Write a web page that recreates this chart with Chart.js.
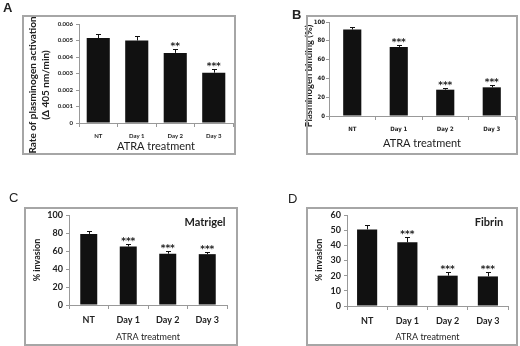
<!DOCTYPE html>
<html>
<head>
<meta charset="utf-8">
<script src="https://cdn.jsdelivr.net/npm/chart.js@4"></script>
<style>
  body { margin: 0; background: #fff; }
  #wrap { position: relative; width: 520px; height: 346px; overflow: hidden; background: #fff; }
  #wrap canvas { position: absolute; }
</style>
</head>
<body>
<div id="wrap">
  <canvas id="chartA" width="260" height="173" style="left:0;top:0"></canvas>
  <canvas id="chartB" width="260" height="173" style="left:260px;top:0"></canvas>
  <canvas id="chartC" width="260" height="173" style="left:0;top:173px"></canvas>
  <canvas id="chartD" width="260" height="173" style="left:260px;top:173px"></canvas>
</div>
<script>
// data
const categories = ['NT', 'Day 1', 'Day 2', 'Day 3'];

const rateValues = [0.00515, 0.0050, 0.00425, 0.00305];
const rateErrors = [0.00025, 0.0003, 0.00022, 0.00025];
const rateStars = ['', '', '**', '***'];

const bindingValues = [92, 73.5, 28, 30.5];
const bindingErrors = [2.5, 2.5, 2, 2.5];
const bindingStars = ['', '***', '***', '***'];

const matrigelValues = [79, 65, 57, 56.5];
const matrigelErrors = [3, 3, 2.5, 2.5];
const matrigelStars = ['', '***', '***', '***'];

const fibrinValues = [50.5, 42, 20, 19.5];
const fibrinErrors = [3, 3.5, 2.5, 3];
const fibrinStars = ['', '***', '***', '***'];

const FONT = 'Lato, "Liberation Sans", sans-serif';
const NARROW = '"Liberation Sans Narrow", "DejaVu Sans Condensed", sans-serif';

// 테두리, 패널 글자, y축 제목, 오차막대, 별표
function decoPlugin(cfg) {
  return {
    id: 'deco',
    afterDraw(chart) {
      const ctx = chart.ctx;
      const [bx, by, bw, bh] = cfg.box;
      ctx.save();
      ctx.fillStyle = '#a6a6a6';
      ctx.fillRect(bx, by, bw, 2);
      ctx.fillRect(bx, by + bh - 2, bw, 2);
      ctx.fillRect(bx, by, 2, bh);
      ctx.fillRect(bx + bw - 2, by, 2, bh);
      ctx.restore();
    },
    afterDatasetsDraw(chart) {
      const ctx = chart.ctx;
      const y = chart.scales.y;
      const meta = chart.getDatasetMeta(0);
      ctx.save();
      // letter
      ctx.fillStyle = '#222';
      ctx.font = (cfg.letterBold ? 'bold ' : '') + '13px "Liberation Sans", Arial, sans-serif';
      ctx.textAlign = 'left';
      ctx.textBaseline = 'middle';
      ctx.fillText(cfg.letter, cfg.letterPos[0], cfg.letterPos[1]);
      // y title
      ctx.font = 'bold ' + cfg.yTitleSize + 'px ' + FONT;
      ctx.textAlign = 'center';
      cfg.yTitle.forEach((line, k) => {
        ctx.save();
        ctx.translate(cfg.yTitlePos[k][0], cfg.yTitlePos[k][1]);
        ctx.rotate(-Math.PI / 2);
        ctx.fillText(line, 0, 0);
        ctx.restore();
      });
      // note (Matrigel / Fibrin)
      if (cfg.note) {
        ctx.font = 'bold 11px ' + FONT;
        ctx.textAlign = 'center';
        ctx.fillText(cfg.note, cfg.notePos[0], cfg.notePos[1]);
      }
      // error bars
      ctx.strokeStyle = '#111';
      ctx.lineWidth = 1;
      meta.data.forEach((bar, i) => {
        const v = cfg.values[i];
        const top = Math.round(y.getPixelForValue(v + cfg.errors[i])) + 0.5;
        const base = y.getPixelForValue(v);
        const x = Math.round(bar.x) + 0.5;
        ctx.beginPath();
        ctx.moveTo(x, base);
        ctx.lineTo(x, top);
        ctx.moveTo(x - 2.5, top);
        ctx.lineTo(x + 2.5, top);
        ctx.stroke();
        if (cfg.stars[i]) {
          ctx.fillStyle = '#222';
          ctx.font = 'bold ' + cfg.starSize + 'px "DejaVu Sans", sans-serif';
          ctx.textAlign = 'center';
          ctx.textBaseline = 'alphabetic';
          ctx.fillText(cfg.stars[i], bar.x, top - 1);
        }
      });
      ctx.restore();
    }
  };
}

function makePanel(id, cfg) {
  new Chart(document.getElementById(id), {
    type: 'bar',
    data: {
      labels: categories,
      datasets: [{
        data: cfg.values,
        backgroundColor: '#111',
        borderWidth: 0,
        barPercentage: cfg.barPct,
        categoryPercentage: 1
      }]
    },
    options: {
      responsive: false,
      animation: false,
      devicePixelRatio: 1,
      layout: { padding: cfg.padding },
      plugins: {
        legend: { display: false },
        tooltip: { enabled: false }
      },
      scales: {
        x: {
          afterFit(s) { s.height = cfg.xHeight; },
          grid: { drawOnChartArea: false, drawTicks: true, tickLength: 4, color: '#999' },
          border: { color: '#999' },
          ticks: { color: '#222', padding: cfg.xTickPad, font: { family: cfg.tickFont, size: cfg.tickSize, weight: 'bold' } },
          title: {
            display: true, text: 'ATRA treatment', color: '#222',
            padding: { top: 0, bottom: cfg.xTitlePad },
            font: { family: FONT, size: cfg.xTitleSize }
          }
        },
        y: {
          min: 0, max: cfg.yMax,
          afterFit(s) { s.width = cfg.yWidth; },
          grid: { drawOnChartArea: false, drawTicks: true, tickLength: 3, color: '#999' },
          border: { color: '#999' },
          ticks: { stepSize: cfg.yStep, color: '#222', padding: cfg.yTickPad, font: { family: cfg.tickFont, size: cfg.yTickSize, weight: 'bold' } }
        }
      }
    },
    plugins: [decoPlugin(cfg)]
  });
}

makePanel('chartA', {
  values: rateValues, errors: rateErrors, stars: rateStars, starSize: 9,
  yMax: 0.006, yStep: 0.001,
  yTitle: ['Rate of plasminogen activation', '(\u0394 405 nm/min)'], yTitleSize: 10,
  yTitlePos: [[33, 85], [45.5, 85]],
  padding: { left: 27, right: 27, top: 24, bottom: 15 },
  yWidth: 52, xHeight: 35, barPct: 0.6,
  tickFont: FONT, tickSize: 6, yTickSize: 6, yTickPad: 3, xTickPad: 5, xTitleSize: 11, xTitlePad: 5,
  box: [22, 15, 214, 140], letter: 'A', letterBold: true, letterPos: [3, 8]
});

makePanel('chartB', {
  values: bindingValues, errors: bindingErrors, stars: bindingStars, starSize: 9,
  yMax: 100, yStep: 20,
  yTitle: ['Plasminogen binding (%)'], yTitleSize: 9.5,
  yTitlePos: [[49, 76]],
  padding: { left: 46, right: 5, top: 22, bottom: 20 },
  yWidth: 23, xHeight: 37, barPct: 0.39,
  tickFont: NARROW, tickSize: 6, yTickSize: 6, yTickPad: 1, xTickPad: 6, xTitleSize: 11, xTitlePad: 3,
  box: [46, 15, 212, 140], letter: 'B', letterBold: true, letterPos: [32, 15]
});

makePanel('chartC', {
  values: matrigelValues, errors: matrigelErrors, stars: matrigelStars, starSize: 9,
  yMax: 100, yStep: 20,
  yTitle: ['% invasion'], yTitleSize: 9,
  yTitlePos: [[37.5, 87]],
  padding: { left: 32, right: 33, top: 42, bottom: 3 },
  yWidth: 37, xHeight: 38, barPct: 0.43,
  tickFont: FONT, tickSize: 9, yTickSize: 9, yTickPad: 3, xTickPad: 6, xTitleSize: 9, xTitlePad: 1,
  box: [24, 34, 214, 139], letter: 'C', letterBold: false, letterPos: [9, 25],
  note: 'Matrigel', notePos: [205, 49]
});

makePanel('chartD', {
  values: fibrinValues, errors: fibrinErrors, stars: fibrinStars, starSize: 9,
  yMax: 60, yStep: 10,
  yTitle: ['% invasion'], yTitleSize: 9,
  yTitlePos: [[59, 87]],
  padding: { left: 54, right: 12, top: 42, bottom: 3 },
  yWidth: 33, xHeight: 37, barPct: 0.5,
  tickFont: FONT, tickSize: 9, yTickSize: 9, yTickPad: 3, xTickPad: 6, xTitleSize: 9, xTitlePad: 1,
  box: [46, 34, 212, 139], letter: 'D', letterBold: false, letterPos: [28, 26],
  note: 'Fibrin', notePos: [229, 49]
});
</script>
</body>
</html>
